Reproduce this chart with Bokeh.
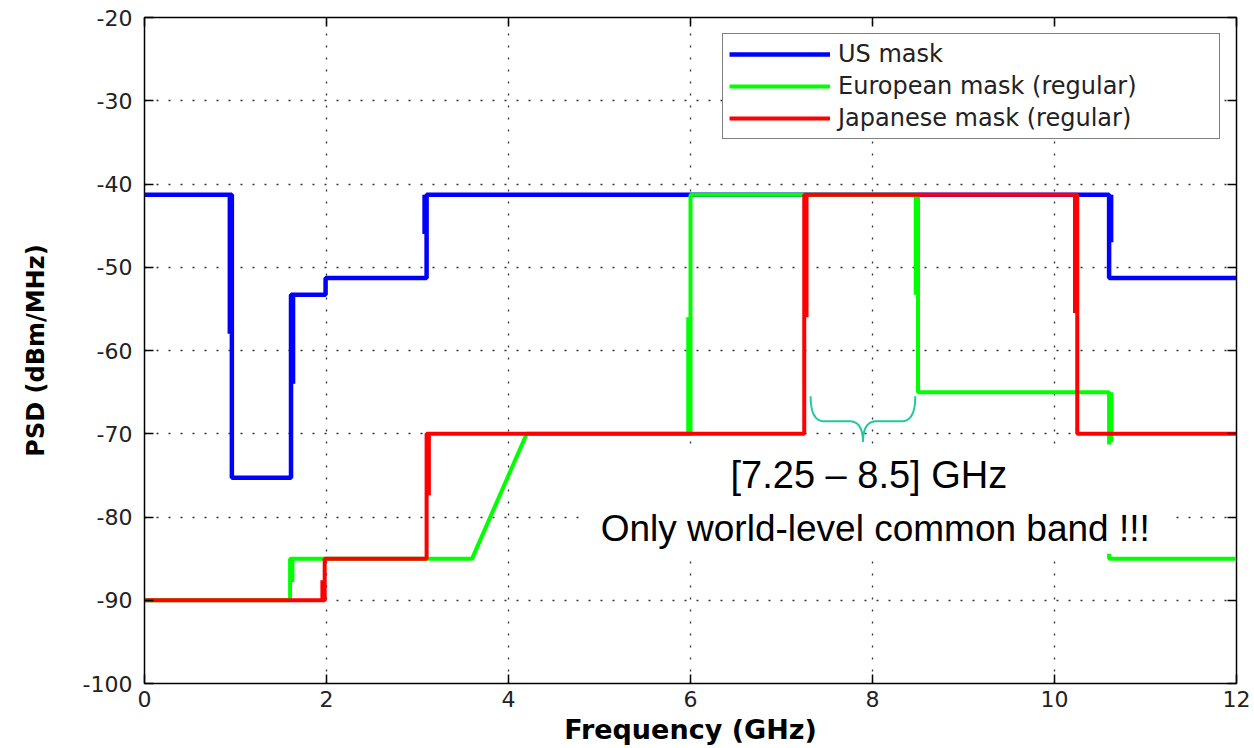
import numpy as np
from bokeh.plotting import figure
from bokeh.models import (Legend, LegendItem, LinearAxis, Range1d, BoxAnnotation,
                          Label, FixedTicker, CustomJSTickFormatter)
from bokeh.embed import file_html
from bokeh.resources import INLINE

# ---- data (GHz, dBm/MHz) ----
us_freq = [0, 0.96, 0.96, 1.61, 1.61, 1.99, 1.99, 3.1, 3.1, 10.6, 10.6, 12]
us_psd = [-41.3, -41.3, -75.3, -75.3, -53.3, -53.3, -51.3, -51.3, -41.3, -41.3, -51.3, -51.3]

eu_freq = [0, 1.6, 1.6, 3.6, 4.2, 6.0, 6.0, 8.5, 8.5, 10.6, 10.6, 12]
eu_psd = [-90, -90, -85, -85, -70, -70, -41.3, -41.3, -65, -65, -85, -85]

jp_freq = [0, 1.98, 1.98, 3.1, 3.1, 7.25, 7.25, 10.25, 10.25, 12]
jp_psd = [-90, -90, -85, -85, -70, -70, -41.3, -41.3, -70, -70]

# doubled (rendering-thickened) parts of the vertical steps: x, y from, y to, side
us_thick_x = [0.96, 1.61, 3.1, 10.6]
us_thick_y0 = [-41.3, -53.3, -41.3, -41.3]
us_thick_y1 = [-58, -64, -46, -47]
us_thick_side = [-1, 1, -1, 1]

eu_thick_x = [1.6, 6.0, 8.5, 10.6]
eu_thick_y0 = [-85, -56, -41.3, -65]
eu_thick_y1 = [-87.8, -70, -53.3, -71]
eu_thick_side = [1, -1, -1, 1]

jp_thick_x = [1.98, 3.1, 7.25, 10.25]
jp_thick_y0 = [-87.6, -70, -41.3, -41.3]
jp_thick_y1 = [-90, -77.4, -56, -55.5]
jp_thick_side = [-1, 1, 1, -1]

x_ticks = [0, 2, 4, 6, 8, 10, 12]
y_ticks = [-100, -90, -80, -70, -60, -50, -40, -30, -20]

band = [7.25, 8.5]
note_lines = ["[7.25 \u2013 8.5] GHz", "Only world-level common band !!!"]
x_title = "Frequency (GHz)"
y_title = "PSD (dBm/MHz)"

FONT = "DejaVu Sans"
NOTE_FONT = "Liberation Sans"

p = figure(width=1254, height=748, output_backend="svg", toolbar_location=None,
           x_range=Range1d(0, 12), y_range=Range1d(-100, -20),
           min_border_left=144, min_border_right=18, min_border_top=17, min_border_bottom=65)
p.background_fill_color = "white"
p.border_fill_color = "white"
p.outline_line_color = "black"
p.outline_line_width = 1.5

fmt = CustomJSTickFormatter(code="return tick.toString()")
for ax in (p.xaxis[0], p.yaxis[0]):
    ax.major_tick_in = 9
    ax.major_tick_out = 0
    ax.minor_tick_line_color = None
    ax.axis_line_color = "black"
    ax.major_tick_line_color = "black"
    ax.major_tick_line_width = 1.5
    ax.major_label_text_font = FONT
    ax.major_label_text_font_size = "22px"
    ax.major_label_text_color = "#222222"
    ax.axis_label_text_font = FONT
    ax.axis_label_text_font_style = "bold"
    ax.axis_label_text_color = "black"
    ax.formatter = fmt
p.xaxis[0].ticker = FixedTicker(ticks=x_ticks)
p.yaxis[0].ticker = FixedTicker(ticks=y_ticks)
p.xaxis[0].axis_label = x_title
p.yaxis[0].axis_label = y_title
p.xaxis[0].axis_label_text_font_size = "27px"
p.yaxis[0].axis_label_text_font_size = "24px"
p.xaxis[0].major_label_standoff = 7
p.yaxis[0].major_label_standoff = 12
p.xaxis[0].axis_label_standoff = 4
p.yaxis[0].axis_label_standoff = 30

blank = CustomJSTickFormatter(code="return ''")
ax_r = LinearAxis(ticker=FixedTicker(ticks=y_ticks), formatter=blank,
                  major_tick_in=9, major_tick_out=0, minor_tick_line_color=None,
                  major_label_standoff=0, major_label_text_font_size="1px",
                  major_tick_line_width=1.5)
ax_t = LinearAxis(ticker=FixedTicker(ticks=x_ticks), formatter=blank,
                  major_tick_in=9, major_tick_out=0, minor_tick_line_color=None,
                  major_label_standoff=0, major_label_text_font_size="1px",
                  major_tick_line_width=1.5)
p.add_layout(ax_r, "right")
p.add_layout(ax_t, "above")

for g in (p.xgrid[0], p.ygrid[0]):
    g.grid_line_color = "#333333"
    g.grid_line_dash = "2 10"
    g.grid_line_width = 1.3
p.xgrid[0].ticker = FixedTicker(ticks=x_ticks)
p.ygrid[0].ticker = FixedTicker(ticks=y_ticks)

OFF = 0.025
def thick(xs, y0, y1, side, color, w):
    xx = [x + s * OFF for x, s in zip(xs, side)]
    p.segment(x0=xx, y0=y0, x1=xx, y1=y1, line_color=color, line_width=w)

BLUE, GREEN, RED = "#0000ff", "#00ff00", "#ff0000"
r_us = p.line(us_freq, us_psd, line_color=BLUE, line_width=4.5)
thick(us_thick_x, us_thick_y0, us_thick_y1, us_thick_side, BLUE, 4)
r_eu = p.line(eu_freq, eu_psd, line_color=GREEN, line_width=4)
thick(eu_thick_x, eu_thick_y0, eu_thick_y1, eu_thick_side, GREEN, 4)
r_jp = p.line(jp_freq, jp_psd, line_color=RED, line_width=4)
thick(jp_thick_x, jp_thick_y0, jp_thick_y1, jp_thick_side, RED, 4)

# white box behind the note
p.add_layout(BoxAnnotation(left=4.8, right=11.27, top=-71.3, bottom=-84.4,
                           fill_color="white", fill_alpha=1.0, line_color=None))

# brace above the band
t = np.linspace(0, 1, 20)
xl, xr = band[0] + 0.07, band[1] - 0.03
xm = (xl + xr) / 2
yt, yh, yb = -65.5, -68.5, -71.0
def qarc(x0, y0, x1, y1, cx, cy):
    return ((1 - t) ** 2 * x0 + 2 * (1 - t) * t * cx + t ** 2 * x1,
            (1 - t) ** 2 * y0 + 2 * (1 - t) * t * cy + t ** 2 * y1)
segs = [qarc(xl, yt, xl + 0.15, yh, xl, yh),
        qarc(xm - 0.15, yh, xm, yb, xm, yh),
        qarc(xm, yb, xm + 0.15, yh, xm, yh),
        qarc(xr - 0.15, yh, xr, yt, xr, yh)]
bx = np.concatenate([s[0] for s in segs])
by = np.concatenate([s[1] for s in segs])
p.line(bx, by, line_color="#20c8a0", line_width=2)

p.add_layout(Label(x=7.96, y=-75.0, text=note_lines[0], text_font=NOTE_FONT,
                   text_font_size="38px", text_align="center", text_baseline="middle",
                   text_color="black"))
p.add_layout(Label(x=8.03, y=-81.4, text=note_lines[1], text_font=NOTE_FONT,
                   text_font_size="37px", text_align="center", text_baseline="middle",
                   text_color="black"))

legend = Legend(items=[LegendItem(label="US mask", renderers=[r_us]),
                       LegendItem(label="European mask (regular)", renderers=[r_eu]),
                       LegendItem(label="Japanese mask (regular)", renderers=[r_jp])],
                location="top_right")
legend.label_text_font = FONT
legend.label_text_font_size = "24px"
legend.label_text_color = "#222222"
legend.glyph_width = 101
legend.glyph_height = 26
legend.label_height = 26
legend.label_width = 375
legend.spacing = 4
legend.padding = 6
legend.margin = 16
legend.label_standoff = 8
legend.border_line_color = "black"
legend.border_line_width = 1.5
legend.background_fill_alpha = 1.0
p.add_layout(legend)

open("out.html", "w").write(file_html(p, INLINE))
